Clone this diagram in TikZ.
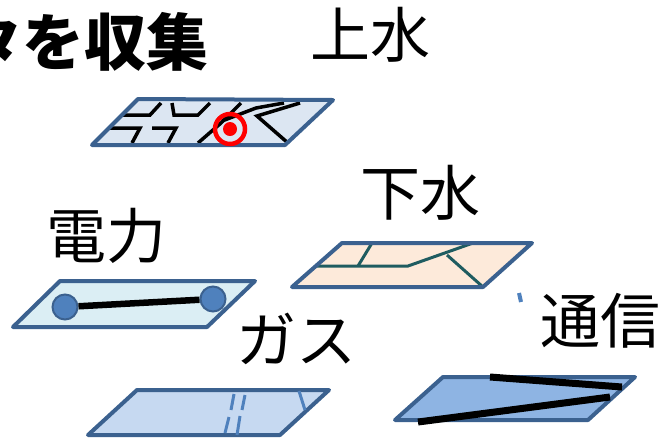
\documentclass[tikz,border=0pt]{standalone}
\usepackage{fontspec}
\newfontfamily\jpfont{Noto Sans CJK JP}
\begin{document}
\begin{tikzpicture}[x=1pt,y=-1pt,
  plate/.style={draw=plateedge,line width=4pt,line join=round},
  label/.style={inner sep=0pt,font=\jpfont\fontsize{60}{60}\selectfont},
  street/.style={draw=black,line width=3.5pt},
  sewer/.style={draw=sewerline,line width=3pt},
  gasline/.style={draw=gasblue,line width=3pt},
  cable/.style={draw=black,line width=6.5pt}]
\definecolor{plateedge}{HTML}{3B618F}
\definecolor{waterfill}{HTML}{DCE6F2}
\definecolor{powerfill}{HTML}{DBEEF4}
\definecolor{sewerfill}{HTML}{FDEADA}
\definecolor{gasfill}{HTML}{C6D9F1}
\definecolor{telfill}{HTML}{8EB4E3}
\definecolor{sewerline}{HTML}{1F5C60}
\definecolor{gasblue}{HTML}{4F81BD}
\definecolor{pole}{HTML}{4F81BD}
\useasboundingbox (0,0) rectangle (668,440);

% heading
\node[inner sep=0pt,anchor=east,font=\jpfont\bfseries\fontsize{62}{62}\selectfont] (title) at (209,42) {タを収集};

% labels of the layers
\node[label] (lwater) at (370,35) {上水};
\node[label] (lsewer) at (420,193) {下水};
\node[label] (lpower) at (106,236) {電力};
\node[label] (lgas) at (296,339) {ガス};
\node[label] (ltel) at (600,321) {通信};

% water supply layer: street grid and marked point
\fill[waterfill] (138,99) -- (333,100) -- (285,145) -- (92,145) -- cycle;
\begin{scope}[street,line join=miter]
  \draw (122,115) -- (150,115) -- (161,103);
  \draw (108,128) -- (140,128) -- (132,143);
  \draw (172,103) -- (174,115) -- (198,115) -- (210,103);
  \draw (152,128) -- (176,128) -- (168,143);
  \draw (198,143) -- (221,123) -- (241,103);
  \draw (222,121) -- (256,108) -- (284,103);
  \draw (300,103) -- (257,116) -- (288,143);
\end{scope}
\draw[plate] (138,99) -- (333,100) -- (285,145) -- (92,145) -- cycle;
\draw[red,line width=4.5pt] (230,129) circle[radius=15];
\fill[red] (230,129) circle[radius=7];

% sewer layer
\fill[sewerfill] (342,243) -- (532,243) -- (483,287) -- (292,287) -- cycle;
\begin{scope}[sewer]
  \draw (317,266) -- (408,266) -- (473,243);
  \draw (372,243) -- (358,266);
  \draw (447,255) -- (483,287);
\end{scope}
\draw[plate] (342,243) -- (532,243) -- (483,287) -- (292,287) -- cycle;

% power layer
\draw[plate,fill=powerfill] (60,281) -- (255,281) -- (207,327) -- (13,327) -- cycle;
\node[circle,draw=plateedge,line width=2pt,fill=pole,minimum size=25pt,inner sep=0pt] (pa) at (65,307) {};
\node[circle,draw=plateedge,line width=2pt,fill=pole,minimum size=25pt,inner sep=0pt] (pb) at (213,299) {};
\draw[cable] (pa) -- (pb);

% gas layer
\draw[plate,fill=gasfill] (137,390) -- (329,390) -- (280,435) -- (88,435) -- cycle;
\begin{scope}[gasline]
  \draw (234,394) -- (231,410);
  \draw (229,417) -- (225,433);
  \draw (245,395) -- (242,410);
  \draw (240,416) -- (237,435);
  \draw (299,391) -- (305,410);
\end{scope}

% telecom layer
\draw[plate,fill=telfill] (443,377) -- (635,377) -- (588,420) -- (395,420) -- cycle;
\coordinate (ta) at (490,377);
\coordinate (tb) at (622,387);
\coordinate (tc) at (418,422);
\coordinate (td) at (610,397);
\draw[cable,line width=7pt] (ta) -- (tb);
\draw[cable,line width=7pt] (tc) -- (td);

% small blue mark
\draw[gasblue,line width=4pt] (519,293) -- (521,302);
\end{tikzpicture}
\end{document}
